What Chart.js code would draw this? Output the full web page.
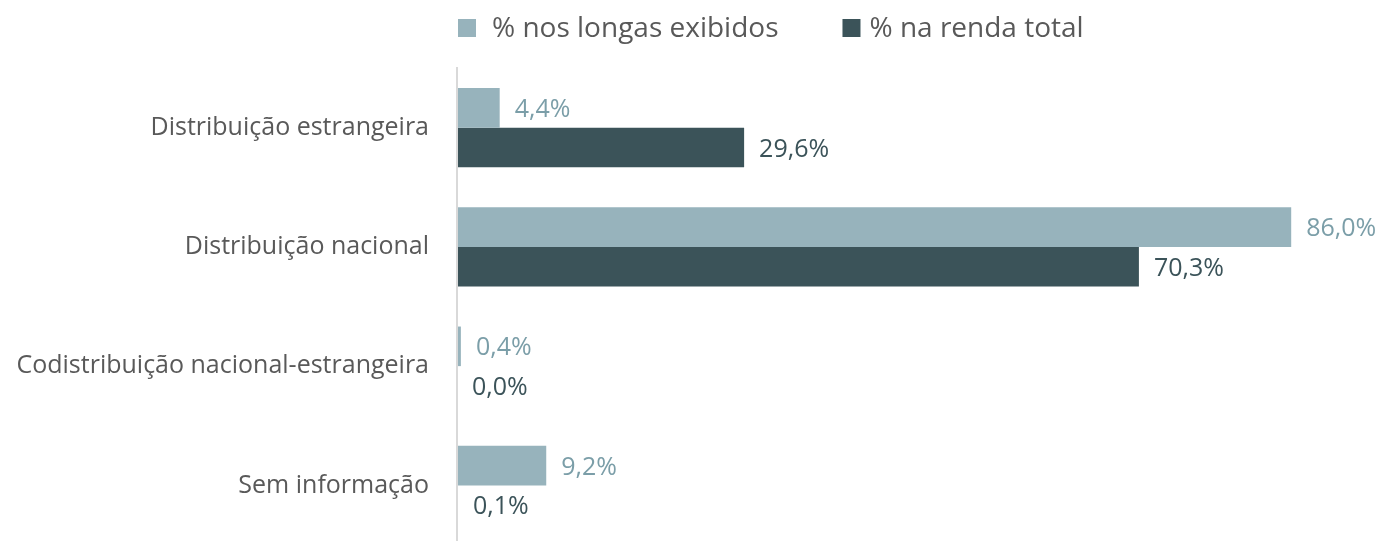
<!DOCTYPE html>
<html>
<head>
<meta charset="utf-8">
<script src="https://cdn.jsdelivr.net/npm/chart.js@4"></script>
<style>
  html, body { margin: 0; padding: 0; background: #fff; overflow: hidden; }
</style>
</head>
<body>
<canvas id="myChart" width="1382" height="546"></canvas>
<script>
const categories = [
    'Distribuição estrangeira',
    'Distribuição nacional',
    'Codistribuição nacional-estrangeira',
    'Sem informação'
]
const longasExibidos = [4.4, 86.0, 0.4, 9.2]
const rendaTotal = [29.6, 70.3, 0.0, 0.1]
const seriesNames = ['% nos longas exibidos', '% na renda total']

const fontFamily = "'Open Sans', 'Noto Sans', sans-serif"
const lightColor = '#97b3bc'
const darkColor = '#3b5359'
const labelColors = ['#7b9ea8', '#3b5359']
const textGray = '#595959'

// value labels at the end of each bar, "4,4%" style
const barLabels = {
    id: 'barLabels',
    afterDatasetsDraw(chart) {
        const ctx = chart.ctx
        ctx.save()
        ctx.font = '25px ' + fontFamily
        ctx.textAlign = 'left'
        ctx.textBaseline = 'middle'
        chart.data.datasets.forEach((ds, i) => {
            const meta = chart.getDatasetMeta(i)
            meta.data.forEach((bar, j) => {
                const txt = ds.data[j].toFixed(1).replace('.', ',') + '%'
                ctx.fillStyle = labelColors[i]
                ctx.fillText(txt, bar.x + 15, bar.y + 2)
            })
        })
        ctx.restore()
    }
}

// legend drawn by hand so the spacing matches the original
const topLegend = {
    id: 'topLegend',
    afterDraw(chart) {
        const ctx = chart.ctx
        ctx.save()
        ctx.font = '28px ' + fontFamily
        ctx.textBaseline = 'middle'
        ctx.textAlign = 'left'
        let x = chart.chartArea.left + 1
        const gaps = [16, 9]
        chart.data.datasets.forEach((ds, i) => {
            ctx.fillStyle = ds.backgroundColor
            ctx.fillRect(x, 19, 18, 18)
            x += 18 + gaps[i]
            ctx.fillStyle = textGray
            ctx.fillText(ds.label, x, 29)
            x += ctx.measureText(ds.label).width + 64
        })
        ctx.restore()
    }
}

const ctx = document.getElementById('myChart')
new Chart(ctx, {
    type: 'bar',
    data: {
        labels: categories,
        datasets: [{
            label: seriesNames[0],
            data: longasExibidos,
            backgroundColor: lightColor,
            categoryPercentage: 0.664,
            barPercentage: 1
        }, {
            label: seriesNames[1],
            data: rendaTotal,
            backgroundColor: darkColor,
            categoryPercentage: 0.664,
            barPercentage: 1
        }]
    },
    options: {
        indexAxis: 'y',
        responsive: false,
        animation: false,
        layout: {
            padding: { left: 0, right: 52, top: 68, bottom: 1 }
        },
        plugins: {
            tooltip: { enabled: false },
            legend: { display: false }
        },
        scales: {
            x: {
                display: false,
                min: 0,
                max: 90
            },
            y: {
                afterFit: (s) => {
                    s.width = 457
                    s.paddingTop = 0
                    s.paddingBottom = 0
                },
                grid: { display: false, drawTicks: false },
                border: { display: true, color: '#d9d9d9', width: 2, z: 1 },
                ticks: {
                    color: textGray,
                    padding: 28,
                    font: { family: fontFamily, size: 25 }
                }
            }
        }
    },
    plugins: [barLabels, topLegend]
})
</script>
</body>
</html>
